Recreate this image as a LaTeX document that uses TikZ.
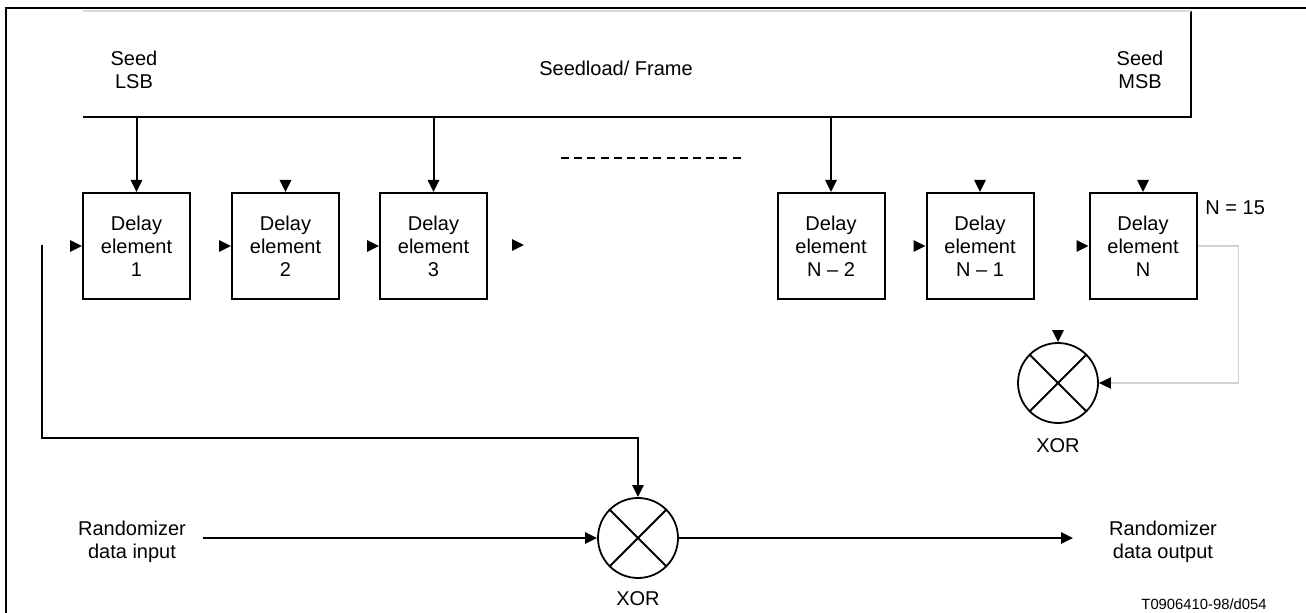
\documentclass[tikz,border=0pt]{standalone}
\usepackage{fontspec}
\setmainfont{Liberation Sans}
\usetikzlibrary{arrows.meta, positioning, calc}

\begin{document}
\begin{tikzpicture}[
    x=0.5pt, y=-0.5pt,
    node distance=20pt,
    >={Triangle[length=6pt, width=5.6pt]},
    font=\fontsize{10}{11.5}\selectfont,
    delay/.style={draw, rectangle, line width=1pt, align=center, minimum width=53.5pt, minimum height=53pt, inner sep=2pt},
    xorgate/.style={draw, circle, line width=0.9pt, minimum size=40pt, inner sep=0pt,
      path picture={\draw[line width=0.9pt] (path picture bounding box.north west) -- (path picture bounding box.south east)
        (path picture bounding box.north east) -- (path picture bounding box.south west);}},
    plain/.style={align=center, inner sep=2pt},
    arrow/.style={->, line width=1pt, black},
    graylink/.style={line width=0.6pt, black!18, -{Triangle[length=6pt, width=5.6pt, color=black]}},
    frame/.style={line width=1pt, black}
  ]
    \useasboundingbox (0,0) rectangle (1306,613);
    \draw[frame] (6,8) rectangle (1330,640);

    % seed load bus
    \coordinate (busL) at (83,117);
    \coordinate (busR) at (1191,117);
    \coordinate (busTR) at (1191,11);
    \coordinate (busTL) at (83,11);
    \draw[line width=1pt] (busL) -- (busR) -- (busTR);
    \draw[line width=0.8pt, black!15] (busTR) -- (busTL);
    \node[plain] (seedlsb) at (134,70) {Seed\\LSB};
    \node[plain] (seedframe) at (616,68) {Seedload/ Frame};
    \node[plain] (seedmsb) at (1140,70) {Seed\\MSB};

    % delay elements
    \node[delay] (delay1) at (136.5,246) {Delay\\element\\1};
    \node[delay, right=of delay1] (delay2) {Delay\\element\\2};
    \node[delay, right=19.5pt of delay2] (delay3) {Delay\\element\\3};
    \node[delay] (delayN2) at (831,246) {Delay\\element\\N -- 2};
    \node[delay, right=of delayN2] (delayN1) {Delay\\element\\N -- 1};
    \node[delay, right=27pt of delayN1] (delayN) {Delay\\element\\N};
    \node[plain, anchor=west] (nval) at (1201,208) {N = 15};

    \coordinate (dashL) at (561,158);
    \coordinate (dashR) at (745,158);
    \draw[line width=1pt, dash pattern=on 4pt off 2.6pt] (dashL) -- (dashR);

    % load arrows
    \foreach \n in {delay1, delay3, delayN2}
      \draw[arrow] (\n.north |- busL) -- (\n.north);
    \foreach \n in {delay2, delayN1, delayN}
      \draw[arrow] ($(\n.north)+(0,-12)$) -- (\n.north);
    \foreach \n in {delay1, delay2, delay3, delayN1, delayN}
      \draw[arrow] ($(\n.west)+(-12,0)$) -- (\n.west);
    \coordinate (cont) at (524,245);
    \draw[arrow] ($(cont)+(-12,0)$) -- (cont);

    % xor gates
    \node[xorgate] (xorN) at (1058,383) {};
    \node[plain, below=5pt of xorN] (xorNlabel) {XOR};
    \node[xorgate] (xorM) at (638,538) {};
    \node[plain, below=4pt of xorM] (xorMlabel) {XOR};
    \draw[arrow] ($(xorN.north)+(0,-12)$) -- (xorN.north);
    \draw[graylink] (delayN.east) -- ++(41,0) |- (xorN.east);

    % feedback and data path
    \coordinate (fbTop) at (42,245);
    \coordinate (fbCorner) at (42,438);
    \draw[arrow] (fbTop) -- (fbCorner) -| (xorM.north);
    \node[plain] (datain) at (132,542) {Randomizer\\data input};
    \node[plain] (dataout) at (1163,542) {Randomizer\\data output};
    \coordinate (inStart) at (203,538);
    \coordinate (outEnd) at (1073,538);
    \draw[arrow] (inStart) -- (xorM.west);
    \draw[arrow] (xorM.east) -- (outEnd);
    \node[plain, font=\fontsize{7.4}{9}\selectfont] (figid) at (1204,604) {T0906410-98/d054};
  \end{tikzpicture}
\end{document}
